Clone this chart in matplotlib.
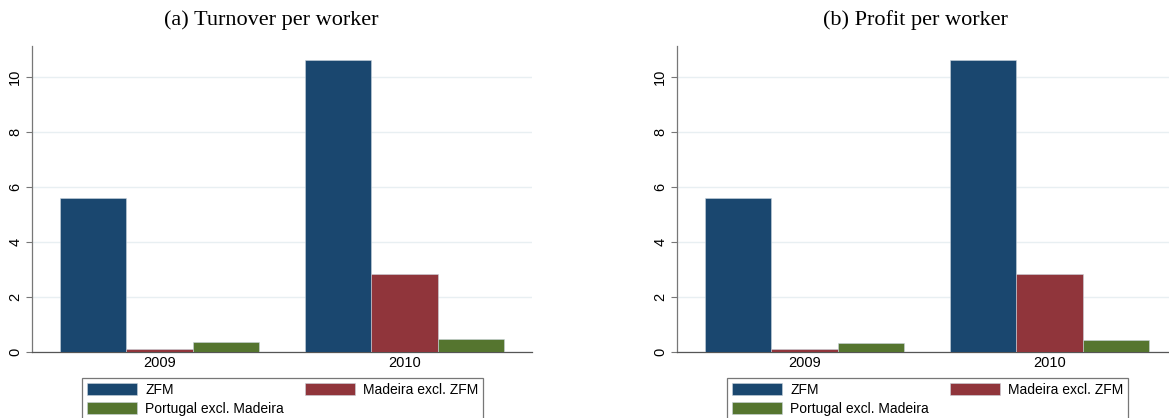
import matplotlib
matplotlib.use('Agg')
import matplotlib.pyplot as plt
import numpy as np

years = ['2009', '2010']
series_names = ['ZFM', 'Madeira excl. ZFM', 'Portugal excl. Madeira']
series_colors = ['#1a476f', '#90353b', '#55752f']

# per-worker values by region, one list per panel and region
turnover_zfm = [5.61, 10.61]
turnover_madeira = [0.12, 2.84]
turnover_portugal = [0.36, 0.46]

profit_zfm = [5.59, 10.60]
profit_madeira = [0.12, 2.84]
profit_portugal = [0.34, 0.44]

panel_titles = ['(a) Turnover per worker', '(b) Profit per worker']
yticks = [0, 2, 4, 6, 8, 10]

W, H = 1169, 418
fig = plt.figure(figsize=(W / 100, H / 100), dpi=100)


def panel(left_px, title_px, title, values):
    ax = fig.add_axes([left_px / W, (H - 352) / H, 500 / W, 306 / H])
    x = np.arange(len(years))
    bw = 0.272
    handles = []
    for i, (vals, col) in enumerate(zip(values, series_colors)):
        h = ax.bar(x + (i - 1) * bw, vals, width=bw, color=col,
                   edgecolor='#c9d3dc', linewidth=0.4, zorder=3,
                   label=series_names[i])
        handles.append(h)
    ax.set_xlim(-0.522, 1.522)
    ax.set_ylim(0, 11.12)
    ax.set_yticks(yticks)
    ax.set_yticklabels([str(t) for t in yticks], rotation=90, va='center',
                       fontsize=10.5, family='Liberation Sans')
    ax.set_xticks(x)
    ax.set_xticklabels(years, fontsize=10.5, family='Liberation Sans')
    ax.tick_params(axis='x', length=0, pad=3)
    ax.tick_params(axis='y', length=4, width=0.8, color='#777', pad=3)
    ax.grid(axis='y', color='#e8eff2', linewidth=1.0, zorder=0)
    for s in ['top', 'right']:
        ax.spines[s].set_visible(False)
    ax.spines['left'].set_color('#777')
    ax.spines['bottom'].set_color('#555')
    ax.spines['left'].set_linewidth(0.9)
    ax.spines['bottom'].set_linewidth(0.9)

    fig.text(title_px / W, 1 - 20 / H, title, ha='center', va='center',
             fontsize=16, family='Liberation Serif')

    # legend rows: ZFM, Madeira / Portugal
    order = [handles[0], handles[2], handles[1]]
    labels = [series_names[0], series_names[2], series_names[1]]
    leg = fig.legend(order, labels, ncol=2, loc='upper left',
                     bbox_to_anchor=((left_px + 50) / W, 1 - 378 / H, 401 / W, 0.0),
                     mode='expand', fancybox=False, frameon=True,
                     prop={'family': 'Liberation Sans', 'size': 10},
                     handlelength=3.6, handleheight=0.95, handletextpad=0.6,
                     borderpad=0.35, labelspacing=0.35, borderaxespad=0)
    leg.get_frame().set_edgecolor('#555')
    leg.get_frame().set_linewidth(0.9)
    return ax


panel(32, 271, panel_titles[0], [turnover_zfm, turnover_madeira, turnover_portugal])
panel(677, 915, panel_titles[1], [profit_zfm, profit_madeira, profit_portugal])

fig.savefig('out.png', dpi=100)
